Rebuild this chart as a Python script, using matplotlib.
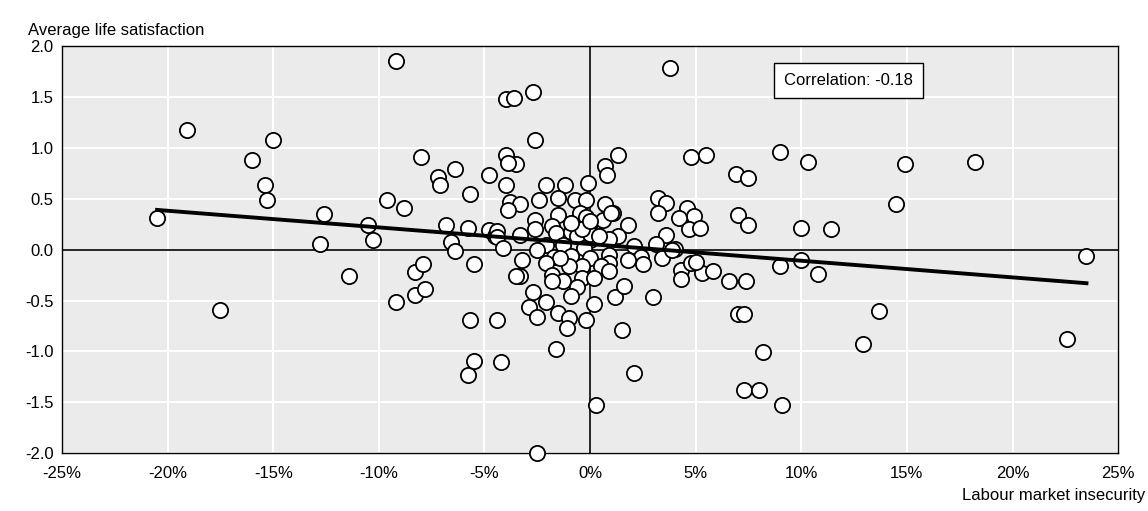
import matplotlib
matplotlib.use("Agg")
import matplotlib.pyplot as plt
import numpy as np

plt.rcParams['font.family'] = ['Liberation Sans Narrow', 'Liberation Sans', 'DejaVu Sans']

# labour market insecurity (%) and average life satisfaction
insecurity = [-20.5, -19.1, -17.5, -16.0, -15.4, -15.3, -15.0, -12.8, -12.6, -11.4, -10.5, -10.3,
              -9.6, -9.2, -9.2, -8.8, -8.3, -8.3, -8.0, -7.9, -7.8, -7.2, -7.1, -6.8, -6.6, -6.4,
              -6.4, -5.8, -5.7, -5.5, -4.8, -4.8, -4.5, -4.4, -4.4, -5.8, -5.7, -5.5,
              -4.0, -3.6, -2.7, -2.6, -2.5, 0.3, 2.1, 3.8,
              -4.0, -3.5, -3.9, -4.0, -3.8, -3.3, -3.9, -2.1, -1.2, -0.1, 0.7, 0.8, 1.3, 4.8,
              -2.4, -1.5, -0.7, -0.2, 0.7, 1.1, -0.5, -1.5, 3.2, 3.6, 3.2, 4.6, 4.9, 4.2, 4.7,
              -3.3, -2.6, -2.6, -1.8, -1.6, -0.9, 0.0, -0.2, 0.6, 1.0, 1.8, 1.3, 0.9, 0.0, -0.6,
              3.6, 3.1, 2.1, 4.0, 2.4, 2.5, 1.8, 0.9, -0.3, -1.3, -2.1, -2.5, -1.7, -0.9, 0.0,
              0.9, 0.5, -0.4, -1.0, -1.4, -2.1, -3.2, -4.1, -3.3, -3.5, -1.8, -1.3, -0.4, 0.2,
              0.9, 1.2, 1.6, 3.0, 4.3, 4.3, 4.8, 5.3, 3.4, 3.9, -1.8, -0.6, -0.9, -2.7, -2.1,
              -2.9, -2.5, -1.5, -1.0, -1.1, -0.2, 0.2, 1.5, -4.4, -4.2, -1.6, 0.0, -0.4, -0.9,
              0.0, 0.4, 5.0, 5.2, 5.8, 5.5, 6.6, 6.9, 7.0, 7.5, 7.5, 7.0, 7.3, 7.4, 7.3, 8.0,
              8.2, 9.0, 9.0, 9.1, 10.0, 10.0, 10.3, 10.8, 11.4, 12.9, 13.7, 14.5, 14.9, 18.2,
              22.6, 23.5]
satisfaction = [0.31, 1.17, -0.59, 0.88, 0.63, 0.49, 1.08, 0.06, 0.35, -0.26, 0.24, 0.09,
                0.49, 1.85, -0.51, 0.41, -0.45, -0.22, 0.91, -0.14, -0.39, 0.71, 0.63, 0.24, 0.07, 0.79,
                -0.01, 0.21, 0.55, -0.14, 0.73, 0.19, 0.13, 0.18, 0.12, -1.23, -0.69, -1.09,
                1.48, 1.49, 1.55, 1.08, -2.0, -1.53, -1.21, 1.78,
                0.93, 0.84, 0.85, 0.63, 0.47, 0.45, 0.39, 0.63, 0.63, 0.65, 0.82, 0.73, 0.93, 0.91,
                0.49, 0.51, 0.49, 0.49, 0.45, 0.36, 0.36, 0.34, 0.51, 0.46, 0.36, 0.41, 0.33, 0.31, 0.20,
                0.14, 0.29, 0.20, 0.23, 0.16, 0.17, 0.26, 0.32, 0.29, 0.36, 0.24, 0.13, 0.10, 0.09, 0.13,
                0.14, 0.06, 0.04, 0.01, -0.07, -0.14, -0.10, -0.05, 0.02, 0.05, 0.05, 0.00, -0.07, -0.06, -0.08,
                -0.13, -0.16, -0.16, -0.16, -0.08, -0.13, -0.10, 0.02, -0.26, -0.26, -0.25, -0.31, -0.28, -0.28,
                -0.21, -0.47, -0.36, -0.47, -0.20, -0.29, -0.13, -0.23, -0.08, 0.00, -0.31, -0.37, -0.46, -0.42, -0.51,
                -0.56, -0.66, -0.62, -0.67, -0.77, -0.69, -0.53, -0.79, -0.69, -1.10, -0.98, 0.15, 0.20, 0.26,
                0.28, 0.13, -0.12, 0.21, -0.21, 0.93, -0.31, 0.74, 0.34, 0.70, 0.24, -0.63, -0.63, -0.31, -1.38, -1.38,
                -1.01, -0.16, 0.96, -1.53, -0.10, 0.21, 0.86, -0.24, 0.20, -0.93, -0.60, 0.45, 0.84, 0.86,
                -0.88, -0.06]

trend_x = [-20.5, 23.5]
trend_y = [0.39, -0.33]
corr_label = "Correlation: -0.18"

x_ticks = np.arange(-25, 26, 5)
y_ticks = np.arange(-2.0, 2.01, 0.5)

fig = plt.figure(figsize=(11.48, 5.11), dpi=100)
ax = fig.add_axes([0.054, 0.113, 0.920, 0.797])
ax.set_facecolor('#ebebeb')
ax.set_xlim(-25, 25)
ax.set_ylim(-2, 2)
ax.set_xticks(x_ticks)
ax.set_yticks(y_ticks)
ax.set_xticklabels([f"{t}%" for t in x_ticks], fontsize=12)
ax.set_yticklabels([f"{t:.1f}" for t in y_ticks], fontsize=12)
ax.grid(True, color='white', linewidth=1.5)
ax.set_axisbelow(True)
ax.tick_params(axis='y', length=0, pad=6)
ax.tick_params(axis='x', length=0, pad=9)
for s in ax.spines.values():
    s.set_color('black')
    s.set_linewidth(1)

ax.axhline(0, color='black', linewidth=1.2, zorder=2)
ax.axvline(0, color='black', linewidth=1.2, zorder=2)

ax.scatter(insecurity, satisfaction, s=120, facecolor='white', edgecolor='black',
           linewidth=1.3, zorder=3, clip_on=False)
ax.plot(trend_x, trend_y, color='black', linewidth=2.8, zorder=4)

ax.text(0.745, 0.915, corr_label, transform=ax.transAxes, fontsize=12, ha='center', va='center',
        bbox=dict(boxstyle='square,pad=0.6', facecolor='white', edgecolor='black', linewidth=1),
        zorder=5)

fig.text(0.024, 0.94, "Average life satisfaction", fontsize=12, ha='left', va='center')
fig.text(0.998, 0.03, "Labour market insecurity", fontsize=12, ha='right', va='center')

fig.savefig("out.png", dpi=100)
